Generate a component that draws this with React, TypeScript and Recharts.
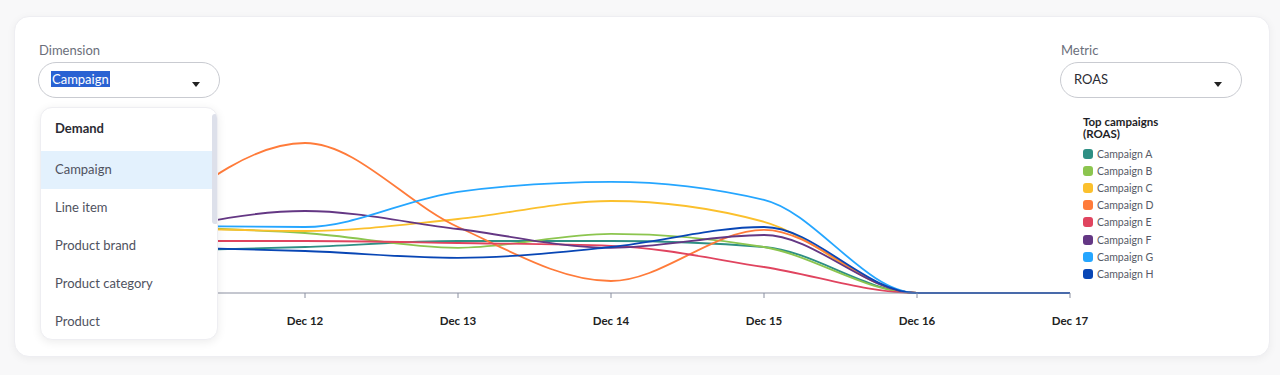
import { LineChart, Line, XAxis, YAxis } from 'recharts';

// ROAS per day
const days = ['Dec 11', 'Dec 12', 'Dec 13', 'Dec 14', 'Dec 15', 'Dec 16', 'Dec 17'];
const campaignA = [1.05, 1.15, 1.3, 1.3, 1.15, 0, 0];
const campaignB = [1.65, 1.5, 1.13, 1.48, 1.15, 0, 0];
const campaignC = [1.65, 1.55, 1.85, 2.3, 1.78, 0, 0];
const campaignD = [1.78, 3.75, 1.65, 0.3, 1.58, 0, 0];
const campaignE = [1.3, 1.3, 1.25, 1.18, 0.65, 0, 0];
const campaignF = [1.5, 2.05, 1.6, 1.13, 1.45, 0, 0];
const campaignG = [1.68, 1.65, 2.53, 2.78, 2.33, 0, 0];
const campaignH = [1.15, 1.05, 0.88, 1.15, 1.65, 0, 0];

const dimensionOptions = ['Campaign', 'Line item', 'Product brand', 'Product category', 'Product'];

const series = [
  { key: 'a', name: 'Campaign A', color: '#2e8f84', values: campaignA },
  { key: 'b', name: 'Campaign B', color: '#8cc54f', values: campaignB },
  { key: 'c', name: 'Campaign C', color: '#fbc02d', values: campaignC },
  { key: 'd', name: 'Campaign D', color: '#ff7b3a', values: campaignD },
  { key: 'e', name: 'Campaign E', color: '#e0445f', values: campaignE },
  { key: 'f', name: 'Campaign F', color: '#643784', values: campaignF },
  { key: 'g', name: 'Campaign G', color: '#25a6ff', values: campaignG },
  { key: 'h', name: 'Campaign H', color: '#0846b5', values: campaignH },
];

const data = days.map((day, i) => {
  const row: Record<string, string | number> = { day };
  series.forEach((s) => {
    row[s.key] = s.values[i];
  });
  return row;
});

const font = 'Lato, "Open Sans", sans-serif';

const Caret = ({ left, top }: { left: number; top: number }) => (
  <div
    style={{
      position: 'absolute',
      left,
      top,
      width: 0,
      height: 0,
      borderLeft: '4.5px solid transparent',
      borderRight: '4.5px solid transparent',
      borderTop: '5px solid #222',
    }}
  />
);

const selectBox = {
  position: 'absolute' as const,
  width: 182,
  height: 36,
  border: '1px solid #c9cbd1',
  borderRadius: 18,
  boxSizing: 'border-box' as const,
  background: '#fff',
};

const App = () => {
  return (
    <div
      style={{
        position: 'absolute',
        left: 0,
        top: 0,
        width: 1280,
        height: 375,
        background: '#f8f8f9',
        fontFamily: font,
        overflow: 'hidden',
      }}
    >
      {/* card */}
      <div
        style={{
          position: 'absolute',
          left: 14,
          top: 16,
          width: 1256,
          height: 341,
          background: '#fff',
          borderRadius: 15,
          border: '1px solid #eeeef2',
          boxSizing: 'border-box',
          boxShadow: '0 2px 8px rgba(0,0,0,0.05)',
        }}
      />

      <div style={{ position: 'absolute', left: 120, top: 113 }}>
        <LineChart width={980} height={240} data={data} margin={{ top: 20, right: 30, left: 32, bottom: 20 }}>
          <XAxis
            dataKey="day"
            height={40}
            stroke="#8a8fa0"
            tickSize={5}
            tickMargin={19}
            tick={{ fill: '#222', fontSize: 11.5, fontWeight: 700, fontFamily: font }}
            interval={0}
          />
          <YAxis hide domain={[0, 4]} />
          {series.map((s) => (
            <Line
              key={s.key}
              type="monotone"
              dataKey={s.key}
              name={s.name}
              stroke={s.color}
              strokeWidth={1.8}
              dot={false}
              activeDot={false}
              isAnimationActive={false}
            />
          ))}
        </LineChart>
      </div>

      {/* Dimension select */}
      <div style={{ position: 'absolute', left: 39, top: 42, fontSize: 13, color: '#6b6f7b' }}>Dimension</div>
      <div style={{ ...selectBox, left: 38, top: 62 }}>
        <span
          style={{
            position: 'absolute',
            left: 12,
            top: 8,
            fontSize: 13,
            lineHeight: '16px',
            background: '#2a62d2',
            color: '#fff',
            padding: '0 1px',
          }}
        >
          Campaign
        </span>
        <Caret left={153} top={19} />
      </div>

      {/* open menu */}
      <div
        style={{
          position: 'absolute',
          left: 40,
          top: 107,
          width: 178,
          height: 233,
          background: '#fff',
          borderRadius: 12,
          border: '1px solid #eeeef2',
          boxSizing: 'border-box',
          boxShadow: '0 2px 10px rgba(0,0,0,0.08)',
          overflow: 'hidden',
        }}
      >
        <div style={{ height: 43, paddingLeft: 14, lineHeight: '40px', fontSize: 13, fontWeight: 700, color: '#2b2b33' }}>
          Demand
        </div>
        {dimensionOptions.map((opt, i) => (
          <div
            key={opt}
            style={{
              height: 38,
              lineHeight: '36px',
              paddingLeft: 14,
              fontSize: 13,
              color: '#4f5260',
              background: i === 0 ? '#e3f1fd' : 'transparent',
              width: 171,
            }}
          >
            {opt}
          </div>
        ))}
        <div
          style={{
            position: 'absolute',
            left: 171,
            top: 6,
            width: 6,
            height: 110,
            borderRadius: 3,
            background: '#dde0ea',
          }}
        />
      </div>

      {/* Metric select */}
      <div style={{ position: 'absolute', left: 1061, top: 42, fontSize: 13, color: '#6b6f7b' }}>Metric</div>
      <div style={{ ...selectBox, left: 1060, top: 62 }}>
        <span style={{ position: 'absolute', left: 13, top: 8, fontSize: 13, lineHeight: '16px', color: '#2b2b33' }}>ROAS</span>
        <Caret left={153} top={19} />
      </div>

      {/* legend */}
      <div style={{ position: 'absolute', left: 1083, top: 116, width: 130 }}>
        <div style={{ fontSize: 11.5, fontWeight: 700, color: '#1e1e26', lineHeight: '12px', marginBottom: 5 }}>
          Top campaigns
          <br />
          (ROAS)
        </div>
        {series.map((s) => (
          <div key={s.key} style={{ display: 'flex', alignItems: 'center', height: 17.2 }}>
            <div style={{ width: 10, height: 10, borderRadius: 3, background: s.color, marginRight: 4 }} />
            <span style={{ fontSize: 10.5, color: '#565a66' }}>{s.name}</span>
          </div>
        ))}
      </div>
    </div>
  );
};

export default App;
